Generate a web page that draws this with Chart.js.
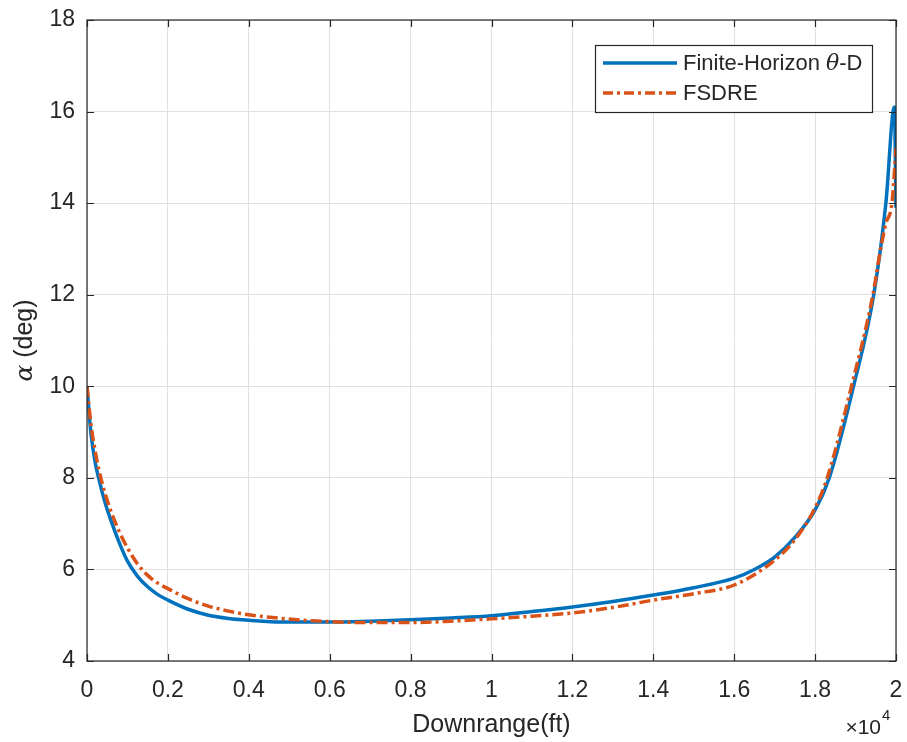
<!DOCTYPE html>
<html>
<head>
<meta charset="utf-8">
<script src="https://cdn.jsdelivr.net/npm/chart.js@4"></script>
<style>
  body { margin: 0; background: #fff; }
  canvas { display: block; }
</style>
</head>
<body>
<canvas id="chart" width="907" height="742"></canvas>
<script>
// downrange (ft) and angle of attack (deg)
const blueX = [0, 100, 200, 300, 450, 600, 800, 1000, 1250, 1500, 1750, 2000, 2500, 3000, 3500, 4000, 4800, 6000, 7000, 8000, 9000, 10000, 11000, 12000, 13000, 14000, 15000, 16000, 16500, 17000, 17500, 18000, 18350, 18950, 19450, 19750, 19960, 20000];
const blueY = [10, 8.95, 8.35, 7.95, 7.45, 7.05, 6.58, 6.18, 5.85, 5.62, 5.45, 5.33, 5.13, 5.0, 4.93, 4.89, 4.85, 4.85, 4.87, 4.9, 4.94, 4.99, 5.08, 5.18, 5.3, 5.44, 5.6, 5.81, 6.0, 6.27, 6.7, 7.3, 8.0, 10, 12, 14, 16.1, 13.9];

const fsdreX = [0, 100, 200, 300, 450, 600, 800, 1000, 1250, 1500, 1750, 2000, 2500, 3000, 3500, 4000, 4800, 6000, 7000, 8000, 9000, 10000, 11000, 12000, 13000, 14000, 15000, 16000, 17000, 17500, 18000, 18300, 18900, 19430, 19600, 19750, 19900, 20000];
const fsdreY = [10, 9.15, 8.6, 8.15, 7.65, 7.25, 6.82, 6.47, 6.12, 5.87, 5.7, 5.58, 5.36, 5.2, 5.09, 5.01, 4.93, 4.86, 4.84, 4.84, 4.87, 4.92, 4.98, 5.05, 5.17, 5.33, 5.47, 5.66, 6.2, 6.65, 7.35, 8.0, 10, 12, 12.9, 13.56, 14.0, 15.2];

const xTicks = [0, 0.2, 0.4, 0.6, 0.8, 1, 1.2, 1.4, 1.6, 1.8, 2];
const yTicks = [4, 6, 8, 10, 12, 14, 16, 18];
const seriesNames = ['Finite-Horizon θ-D', 'FSDRE'];

const BLUE = '#0072BD';
const ORANGE = '#D95319';
const FONT = '"Liberation Sans", Arial, Helvetica, sans-serif';

function toPoints(xs, ys) {
    return xs.map((x, i) => ({ x: x, y: ys[i] }));
}

// frame, inward ticks, legend box and axis titles like a MATLAB figure
const matlabAxes = {
    id: 'matlabAxes',
    afterDraw(chart) {
        const ctx = chart.ctx;
        const area = chart.chartArea;
        const xs = chart.scales.x;
        const ys = chart.scales.y;
        ctx.save();

        ctx.strokeStyle = '#262626';
        ctx.lineWidth = 1.2;
        ctx.strokeRect(area.left, area.top, area.right - area.left, area.bottom - area.top);

        const tl = 7;
        ctx.beginPath();
        xTicks.forEach(t => {
            const px = Math.round(xs.getPixelForValue(t * 10000)) + 0.5;
            ctx.moveTo(px, area.bottom); ctx.lineTo(px, area.bottom - tl);
            ctx.moveTo(px, area.top); ctx.lineTo(px, area.top + tl);
        });
        yTicks.forEach(t => {
            const py = Math.round(ys.getPixelForValue(t)) + 0.5;
            ctx.moveTo(area.left, py); ctx.lineTo(area.left + tl, py);
            ctx.moveTo(area.right, py); ctx.lineTo(area.right - tl, py);
        });
        ctx.stroke();

        // legend
        ctx.fillStyle = '#fff';
        ctx.fillRect(595, 45, 277, 67);
        ctx.strokeStyle = '#262626';
        ctx.lineWidth = 1.2;
        ctx.strokeRect(595.5, 45.5, 277, 67);

        ctx.lineWidth = 3.5;
        ctx.strokeStyle = BLUE;
        ctx.setLineDash([]);
        ctx.beginPath(); ctx.moveTo(603, 63); ctx.lineTo(677, 63); ctx.stroke();
        ctx.strokeStyle = ORANGE;
        ctx.setLineDash([10, 4, 3, 4]);
        ctx.beginPath(); ctx.moveTo(603, 93); ctx.lineTo(677, 93); ctx.stroke();
        ctx.setLineDash([]);

        ctx.fillStyle = '#262626';
        ctx.textBaseline = 'middle';
        ctx.textAlign = 'left';
        ctx.font = '22px ' + FONT;
        let tx = 683;
        const first = 'Finite-Horizon ';
        ctx.fillText(first, tx, 64);
        tx += ctx.measureText(first).width;
        ctx.font = 'italic 22px "DejaVu Serif", serif';
        ctx.fillText('θ', tx, 64);
        tx += ctx.measureText('θ').width;
        ctx.font = '22px ' + FONT;
        ctx.fillText('-D', tx, 64);
        ctx.fillText(seriesNames[1], 683, 94);

        // x title
        ctx.textAlign = 'center';
        ctx.font = '25px ' + FONT;
        ctx.fillText('Downrange(ft)', (area.left + area.right) / 2, 725);

        // exponent
        ctx.textAlign = 'right';
        ctx.font = '21px ' + FONT;
        ctx.fillText('×10', 881, 728);
        ctx.textAlign = 'left';
        ctx.font = '15px ' + FONT;
        ctx.fillText('4', 882, 716);

        // y title
        ctx.translate(25, (area.top + area.bottom) / 2);
        ctx.rotate(-Math.PI / 2);
        ctx.font = 'italic 25px "DejaVu Serif", serif';
        const aw = ctx.measureText('α').width;
        ctx.font = '25px ' + FONT;
        const rest = ' (deg)';
        const rw = ctx.measureText(rest).width;
        const start = -(aw + rw) / 2;
        ctx.textAlign = 'left';
        ctx.font = 'italic 25px "DejaVu Serif", serif';
        ctx.fillText('α', start, 0);
        ctx.font = '25px ' + FONT;
        ctx.fillText(rest, start + aw, 0);

        ctx.restore();
    }
};

new Chart(document.getElementById('chart'), {
    type: 'line',
    data: {
        datasets: [{
            label: seriesNames[0],
            data: toPoints(blueX, blueY),
            borderColor: BLUE,
            borderWidth: 3.5,
            pointRadius: 0,
            cubicInterpolationMode: 'monotone',
            order: 1
        }, {
            label: seriesNames[1],
            data: toPoints(fsdreX, fsdreY),
            borderColor: ORANGE,
            borderWidth: 3.5,
            borderDash: [11, 4, 3, 4],
            pointRadius: 0,
            cubicInterpolationMode: 'monotone',
            order: 0
        }]
    },
    options: {
        responsive: false,
        animation: false,
        layout: { padding: { top: 20, right: 11, left: 0, bottom: 0 } },
        plugins: {
            legend: { display: false },
            tooltip: { enabled: false }
        },
        scales: {
            x: {
                type: 'linear',
                min: 0,
                max: 20000,
                afterFit: scale => {
                    scale.height = 81;
                    scale.paddingLeft = 0;
                    scale.paddingRight = 0;
                },
                afterBuildTicks: scale => { scale.ticks = xTicks.map(v => ({ value: v * 10000 })); },
                ticks: {
                    callback: v => String(v / 10000),
                    font: { family: FONT, size: 23 },
                    color: '#262626',
                    padding: 16,
                    maxRotation: 0
                },
                grid: { color: '#e0e0e0', drawTicks: false },
                border: { display: false }
            },
            y: {
                type: 'linear',
                min: 4,
                max: 18,
                afterFit: scale => {
                    scale.width = 87;
                    scale.paddingTop = 0;
                    scale.paddingBottom = 0;
                },
                afterBuildTicks: scale => { scale.ticks = yTicks.map(v => ({ value: v })); },
                ticks: {
                    font: { family: FONT, size: 23 },
                    color: '#262626',
                    padding: 12
                },
                grid: { color: '#e0e0e0', drawTicks: false },
                border: { display: false }
            }
        }
    },
    plugins: [matlabAxes]
});
</script>
</body>
</html>
